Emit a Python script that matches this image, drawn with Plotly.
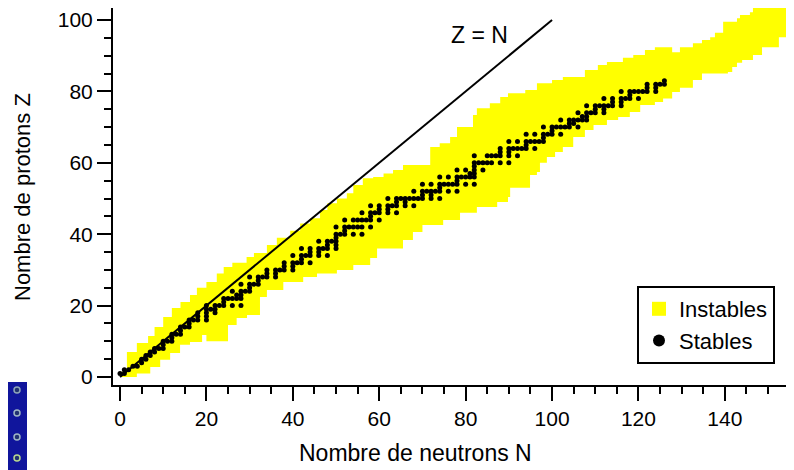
import plotly.graph_objects as go

# ---- Stable nuclides: for each Z, list of stable neutron numbers N ----
stable_Z = list(range(1, 84))
stable_N = [
    [0, 1], [1, 2], [3, 4], [5], [5, 6], [6, 7], [7, 8], [8, 9, 10], [10], [10, 11, 12],
    [12], [12, 13, 14], [14], [14, 15, 16], [16], [16, 17, 18, 20], [18, 20], [18, 20, 22],
    [20, 21, 22], [20, 22, 23, 24, 26, 28], [24], [24, 25, 26, 27, 28], [27, 28],
    [26, 28, 29, 30], [30], [28, 30, 31, 32], [32], [30, 32, 33, 34, 36], [34, 36],
    [34, 36, 37, 38, 40], [38, 40], [38, 40, 41, 42, 44], [42], [40, 42, 43, 44, 46, 48],
    [44, 46], [42, 44, 46, 47, 48, 50], [48, 50], [46, 48, 49, 50], [50], [50, 51, 52, 54, 56],
    [52], [50, 52, 53, 54, 55, 56, 58], [], [52, 54, 55, 56, 57, 58, 60], [58],
    [56, 58, 59, 60, 62, 64], [60, 62], [58, 60, 62, 63, 64, 66, 68], [64, 66],
    [62, 64, 65, 66, 67, 68, 69, 70, 72, 74], [70, 72], [68, 70, 71, 72, 73, 74, 76, 78],
    [74], [70, 72, 74, 75, 76, 77, 78, 80, 82], [78], [74, 76, 78, 79, 80, 81, 82], [81, 82],
    [78, 80, 82, 84], [82], [82, 83, 84, 85, 86, 88, 90], [], [82, 85, 86, 87, 88, 90, 92],
    [88, 90], [88, 90, 91, 92, 93, 94, 96], [94], [90, 92, 94, 95, 96, 97, 98], [98],
    [94, 96, 98, 99, 100, 102], [100], [98, 100, 101, 102, 103, 104, 106], [104, 105],
    [102, 104, 105, 106, 107, 108], [107, 108], [106, 108, 109, 110, 112], [110, 112],
    [108, 110, 111, 112, 113, 114, 116], [114, 116], [112, 114, 116, 117, 118, 120], [118],
    [116, 118, 119, 120, 121, 122, 124], [122, 124], [122, 124, 125, 126], [126],
]

# ---- Unstable band boundaries ----
band_upper_N = [0, 1.6, 3.9, 6.5, 8, 10, 12, 14, 16.2, 17.8, 20, 22.4, 24, 26, 29.3, 31, 34,
                36.3, 39.4, 41.7, 44, 46.3, 48, 50.2, 52.5, 54, 56.2, 58.6, 61, 63.2, 65.5,
                71.8, 74, 76.4, 78, 81.7, 82.6, 85.6, 88, 89.8, 93.8, 96.5, 100, 102.5, 107.6,
                110.6, 112.7, 116.4, 118.8, 121.5, 123.8, 127.8, 129.6, 132.6, 134.7, 136.6,
                137.7, 139.6, 142.8, 143.5, 145.8, 146.5, 150.5, 157]
band_upper_Z = [1.5, 7, 9.5, 11.5, 14, 16.8, 19.3, 21, 23, 25, 26.6, 29, 30.8, 32, 33.6, 34.7, 37,
                39, 41, 43, 44.5, 46.8, 48.7, 50, 51.5, 53.8, 55.7, 56, 57, 58, 59.4,
                64.4, 65.5, 67.2, 70, 73.4, 75.3, 76.7, 78.4, 79.5, 80.4, 82.3, 83.2, 84, 86,
                87.4, 88.2, 89.4, 90.2, 91.6, 92.4, 91, 92.4, 93.5, 94.4, 95.2,
                96.4, 99.5, 100.5, 101.4, 102.2, 103.6, 104.5, 104.5]
band_lower_N = [0, 3.9, 7, 9.3, 11.6, 13.9, 16.2, 19, 20, 25, 27, 29.4, 32.4, 34, 37.8, 42.4,
                45.6, 50.2, 54, 57.9, 59.5, 65.5, 67.8, 70, 74.8, 78.7, 82.6, 87.3, 89.8, 90.3,
                94.9, 96.5, 97.2, 98.8, 100.7, 102.5, 104.9, 107.6, 109.6, 112.7, 115.3, 118,
                120.4, 123.8, 125.7, 127.8, 129.6, 132.6, 134.7, 140.7, 141.7, 142.8, 144,
                146.5, 148.6, 152.5, 157]
band_lower_Z = [0, 1, 2.8, 4.8, 6.7, 9, 9.8, 11.8, 10, 14.6, 16.5, 17.4, 22.4, 24.4, 26.6, 28,
                29, 30, 31.4, 33.3, 36, 38.4, 40.6, 42.6, 44, 46, 47.6, 49, 50.4, 53,
                56.6, 57.4, 60, 61.6, 63, 64.4, 67.2, 69.2, 70.6, 72, 72.8, 74.2,
                76.2, 77, 78, 79.8, 81, 83.2, 85, 85.4, 86.8, 88, 88.8,
                90.2, 92.4, 95.2, 95.2]

# ---- Z = N line ----
line_N = [0, 100]
line_Z = [0, 100]

stable_x = [n for z, ns in zip(stable_Z, stable_N) for n in ns]
stable_y = [z for z, ns in zip(stable_Z, stable_N) for n in ns]

FONT = "Liberation Sans, Arial, sans-serif"
YELLOW = "#FFFF00"

fig = go.Figure()
fig.add_trace(go.Scatter(x=band_lower_N, y=band_lower_Z, mode="lines", line=dict(width=0, shape="hv"),
                         showlegend=False, hoverinfo="skip"))
fig.add_trace(go.Scatter(x=band_upper_N, y=band_upper_Z, mode="lines", line=dict(width=0, shape="hv"),
                         fill="tonexty", fillcolor=YELLOW, showlegend=False, hoverinfo="skip"))
fig.add_trace(go.Scatter(x=line_N, y=line_Z, mode="lines", line=dict(color="black", width=2),
                         showlegend=False))
fig.add_trace(go.Scatter(x=stable_x, y=stable_y, mode="markers",
                         marker=dict(color="black", size=5), showlegend=False))
# legend entries
fig.add_trace(go.Scatter(x=[None], y=[None], mode="markers", name="Instables",
                         marker=dict(symbol="square", color=YELLOW, size=14)))
fig.add_trace(go.Scatter(x=[None], y=[None], mode="markers", name="Stables",
                         marker=dict(symbol="circle", color="black", size=12)))

# page-pixel helpers (the page body adds an 8px offset)
PLOT_LEFT, PLOT_W, PLOT_BOTTOM, PLOT_H = 113, 681, 385, 377
def px2x(px):
    return (px - PLOT_LEFT) / PLOT_W
def py2y(py):
    return (PLOT_BOTTOM - py) / PLOT_H

fig.add_annotation(x=83.3, y=95.8, text="Z = N", showarrow=False,
                   font=dict(family=FONT, size=23, color="black"))
fig.add_annotation(xref="paper", yref="paper", x=px2x(415), y=py2y(453), text="Nombre de neutrons N",
                   showarrow=False, xanchor="center", yanchor="middle",
                   font=dict(family=FONT, size=23, color="black"))
fig.add_annotation(xref="paper", yref="paper", x=px2x(22), y=py2y(197), text="Nombre de protons Z",
                   showarrow=False, textangle=-90, xanchor="center", yanchor="middle",
                   font=dict(family=FONT, size=22, color="black"))

axis_common = dict(showline=True, linecolor="black", linewidth=2, ticks="outside",
                   ticklen=14, tickwidth=2, tickcolor="black", showgrid=False, zeroline=False,
                   automargin=False,
                   tickfont=dict(family=FONT, size=21, color="black"),
                   minor=dict(dtick=5, ticks="outside", ticklen=7, tickwidth=2, tickcolor="black"))

fig.update_xaxes(range=[-1.62, 156.0], dtick=20, tick0=0, **axis_common)
fig.update_yaxes(range=[-2.24, 103.36], dtick=20, tick0=0, **axis_common)

# small blue artifact strip at bottom-left of the reference image
shapes = [dict(type="rect", xref="paper", yref="paper", x0=px2x(0), x1=px2x(27), y0=py2y(480), y1=py2y(382),
               fillcolor="#10159c", line=dict(width=0), layer="above")]
for cy, col in [(390, "#8fa6b8"), (413, "#9fb5c4"), (437, "#9fb5c4"), (458, "#b8d890")]:
    shapes.append(dict(type="circle", xref="paper", yref="paper", x0=px2x(14), x1=px2x(20),
                       y0=py2y(cy + 3), y1=py2y(cy - 3), line=dict(color=col, width=1.5),
                       fillcolor="#203070", layer="above"))

fig.update_layout(
    width=794, height=470,
    margin=dict(l=105, r=8, t=0, b=93, autoexpand=False),
    paper_bgcolor="white", plot_bgcolor="white",
    font=dict(family=FONT, size=21, color="black"),
    showlegend=True,
    legend=dict(x=px2x(637), y=py2y(286), xanchor="left", yanchor="top",
                bordercolor="black", borderwidth=2, bgcolor="white",
                font=dict(family=FONT, size=22, color="black"), traceorder="normal"),
    shapes=shapes,
)

fig.write_html("out.html")
